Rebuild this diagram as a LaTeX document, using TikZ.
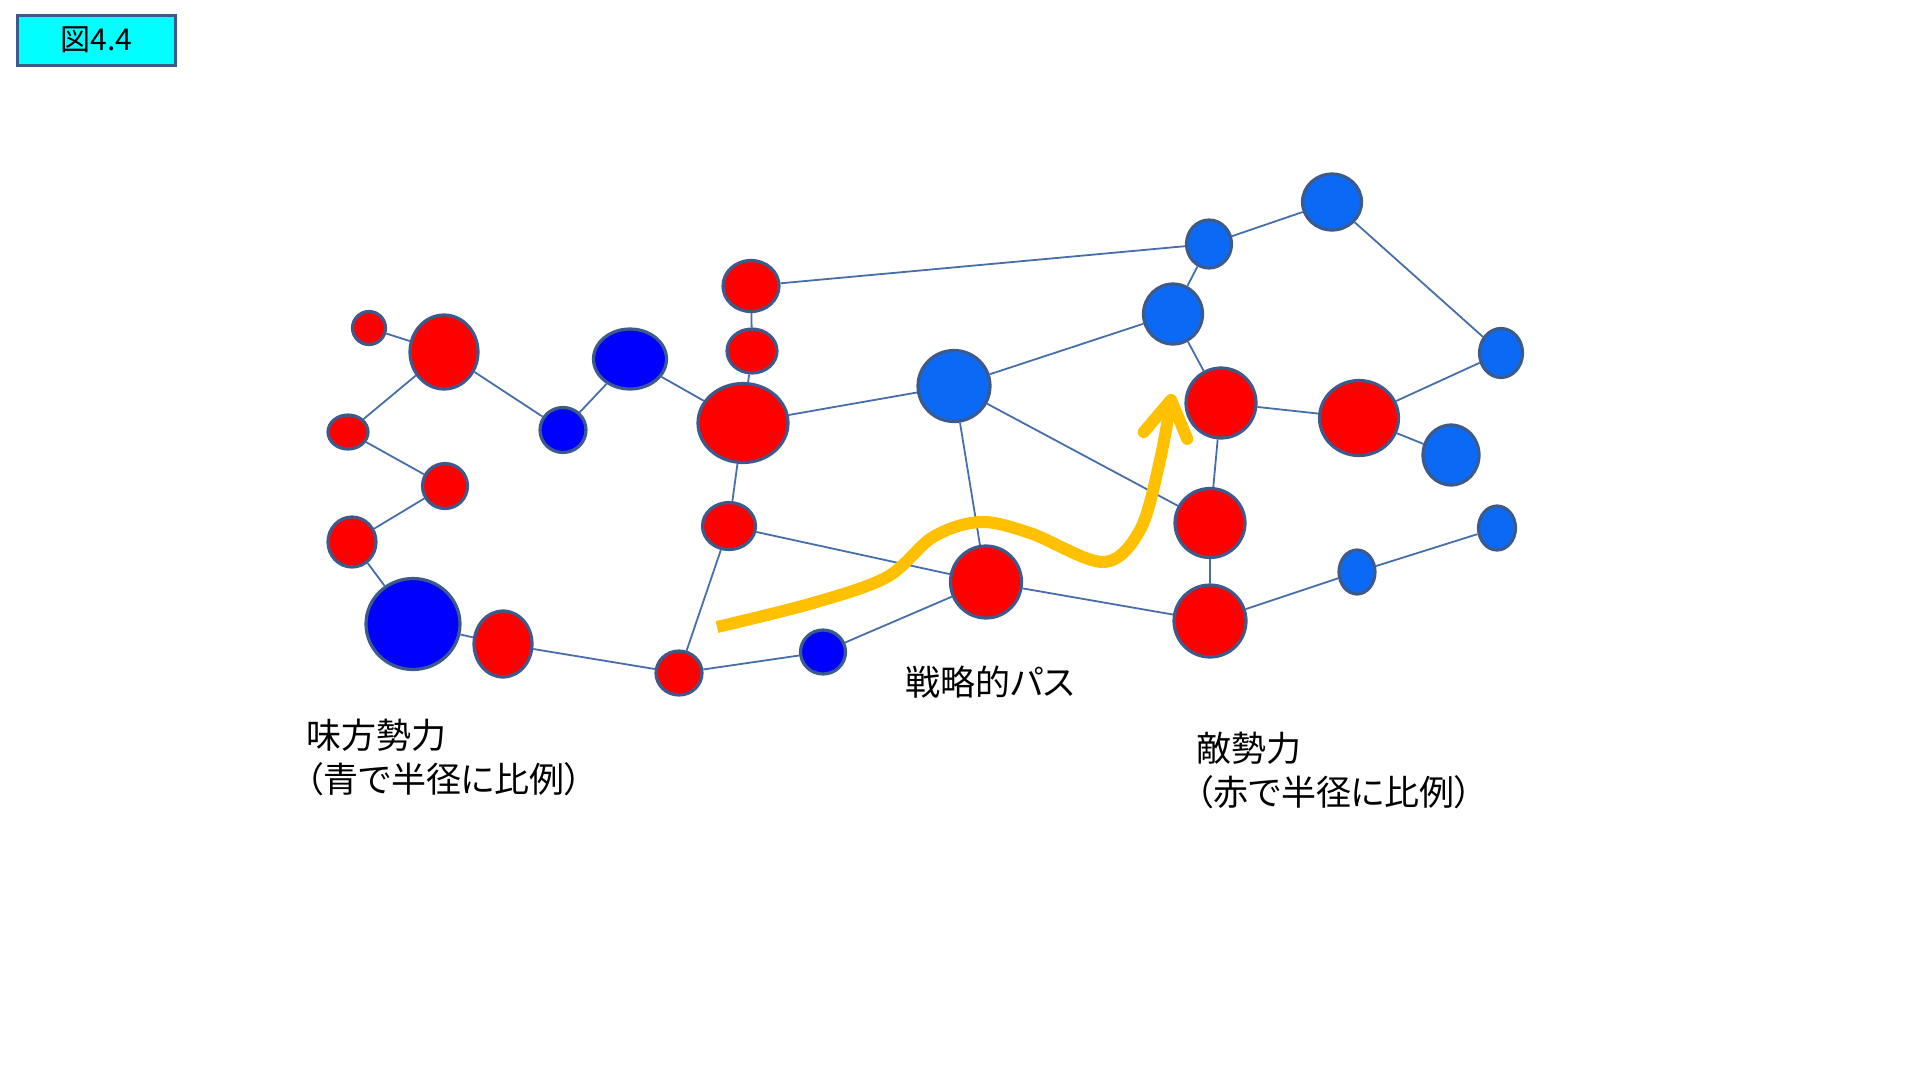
\documentclass[tikz,border=0pt]{standalone}
\usepackage{fontspec}
\setmainfont{Noto Sans CJK JP}[RawFeature=+palt]
\usetikzlibrary{shapes.geometric, arrows.meta}

\definecolor{rimblue}{RGB}{61,90,140}
\definecolor{linkblue}{RGB}{70,110,170}
\definecolor{navyunit}{RGB}{0,0,255}
\definecolor{skyunit}{RGB}{10,106,245}
\definecolor{pathgold}{RGB}{255,192,0}
\definecolor{titlecyan}{RGB}{0,255,255}

\tikzset{
  unit/.style={ellipse, draw=rimblue, line width=3.2pt, inner sep=0pt},
  enemy/.style={unit, fill=red},
  ally/.style={unit, fill=navyunit},
  allylight/.style={unit, fill=skyunit},
  wh/.style 2 args={minimum width=#1pt, minimum height=#2pt},
  link/.style={draw=linkblue, line width=1.8pt},
  legend/.style={anchor=north west, inner sep=0pt, align=left,
    font=\fontsize{35}{44}\selectfont},
}

\begin{document}
\begin{tikzpicture}[x=1pt, y=-1pt]
  \useasboundingbox (0,0) rectangle (1920,1080);

  % Title box
  \node [draw=rimblue, line width=3pt, fill=titlecyan, wh={158}{50},
    font=\fontsize{30}{36}\selectfont] (title) at (96.5,40) {図4.4};

  % Left cluster
  \node [enemy, wh={33}{33}] (a) at (369,328) {};
  \node [enemy, wh={68}{74}] (b) at (444,352) {};
  \node [enemy, wh={40}{34}] (c) at (348,432) {};
  \node [enemy, wh={45}{45}] (d) at (445,486) {};
  \node [enemy, wh={48}{50}] (e) at (352,542) {};
  \node [ally, wh={94}{91}] (f) at (413,624) {};
  \node [enemy, wh={58}{66}] (g) at (503,644) {};
  \node [ally, wh={46}{45}] (h) at (563,430) {};
  \node [ally, wh={73}{60}] (i) at (630,359) {};
  \node [enemy, wh={46}{44}] (j) at (679,673) {};

  % Middle column
  \node [enemy, wh={56}{51}] (l) at (751,286) {};
  \node [enemy, wh={50}{44}] (m) at (752,351) {};
  \node [enemy, wh={90}{79}] (n) at (743,423) {};
  \node [enemy, wh={53}{47}] (k) at (729,526) {};
  \node [allylight, wh={72}{71}] (o) at (954,386) {};
  \node [enemy, wh={71}{72}] (p) at (986,582) {};
  \node [ally, wh={45}{44}] (q) at (823,652) {};

  % Right cluster
  \node [allylight, wh={45}{48}] (r) at (1209,244) {};
  \node [allylight, wh={59}{56}] (s) at (1332,202) {};
  \node [allylight, wh={59}{60}] (t) at (1173,314) {};
  \node [allylight, wh={43}{49}] (u) at (1501,353) {};
  \node [enemy, wh={70}{70}] (v) at (1221,403) {};
  \node [enemy, wh={79}{75}] (w) at (1359,418) {};
  \node [allylight, wh={56}{60}] (x) at (1451,455) {};
  \node [enemy, wh={70}{69}] (y) at (1210,523) {};
  \node [enemy, wh={72}{72}] (z) at (1210,621) {};
  \node [allylight, wh={36}{44}] (aa) at (1357,572) {};
  \node [allylight, wh={37}{44}] (ab) at (1497,528) {};

  % Links
  \draw [link] (a) -- (b) (b) -- (h) (b) -- (c) (c) -- (d) (e) -- (d);
  \draw [link] (e) -- (f) (f) -- (g) (g) -- (j) (h) -- (i) (i) -- (n);
  \draw [link] (j) -- (k) (j) -- (q) (k) -- (n) (n) -- (m) (m) -- (l);
  \draw [link] (l) -- (r) (n) -- (o) (o) -- (t) (o) -- (y) (o) -- (p);
  \draw [link] (k) -- (p) (q) -- (p) (p) -- (z);
  \draw [link] (t) -- (r) (r) -- (s) (s) -- (u) (t) -- (v) (v) -- (w);
  \draw [link] (w) -- (u) (w) -- (x) (v) -- (y) (y) -- (z) (z) -- (aa) (aa) -- (ab);

  % Strategic path
  \draw [pathgold, line width=12pt,
    -{Straight Barb[round, length=36pt, width=44pt]}]
    plot [smooth, tension=0.55] coordinates {(717,627) (813,603) (887,577)
      (933,537) (980,522) (1030,533) (1103,562) (1140,530) (1160,460) (1172,394)};

  % Labels
  \node [font=\fontsize{35}{44}\selectfont, inner sep=0pt] (pathlabel)
    at (990,682) {戦略的パス};
  \node [legend] (allylabel) at (306,719) {味方勢力\\（青で半径に比例）};
  \node [legend] (enemylabel) at (1196,732) {敵勢力\\（赤で半径に比例）};

\end{tikzpicture}
\end{document}
